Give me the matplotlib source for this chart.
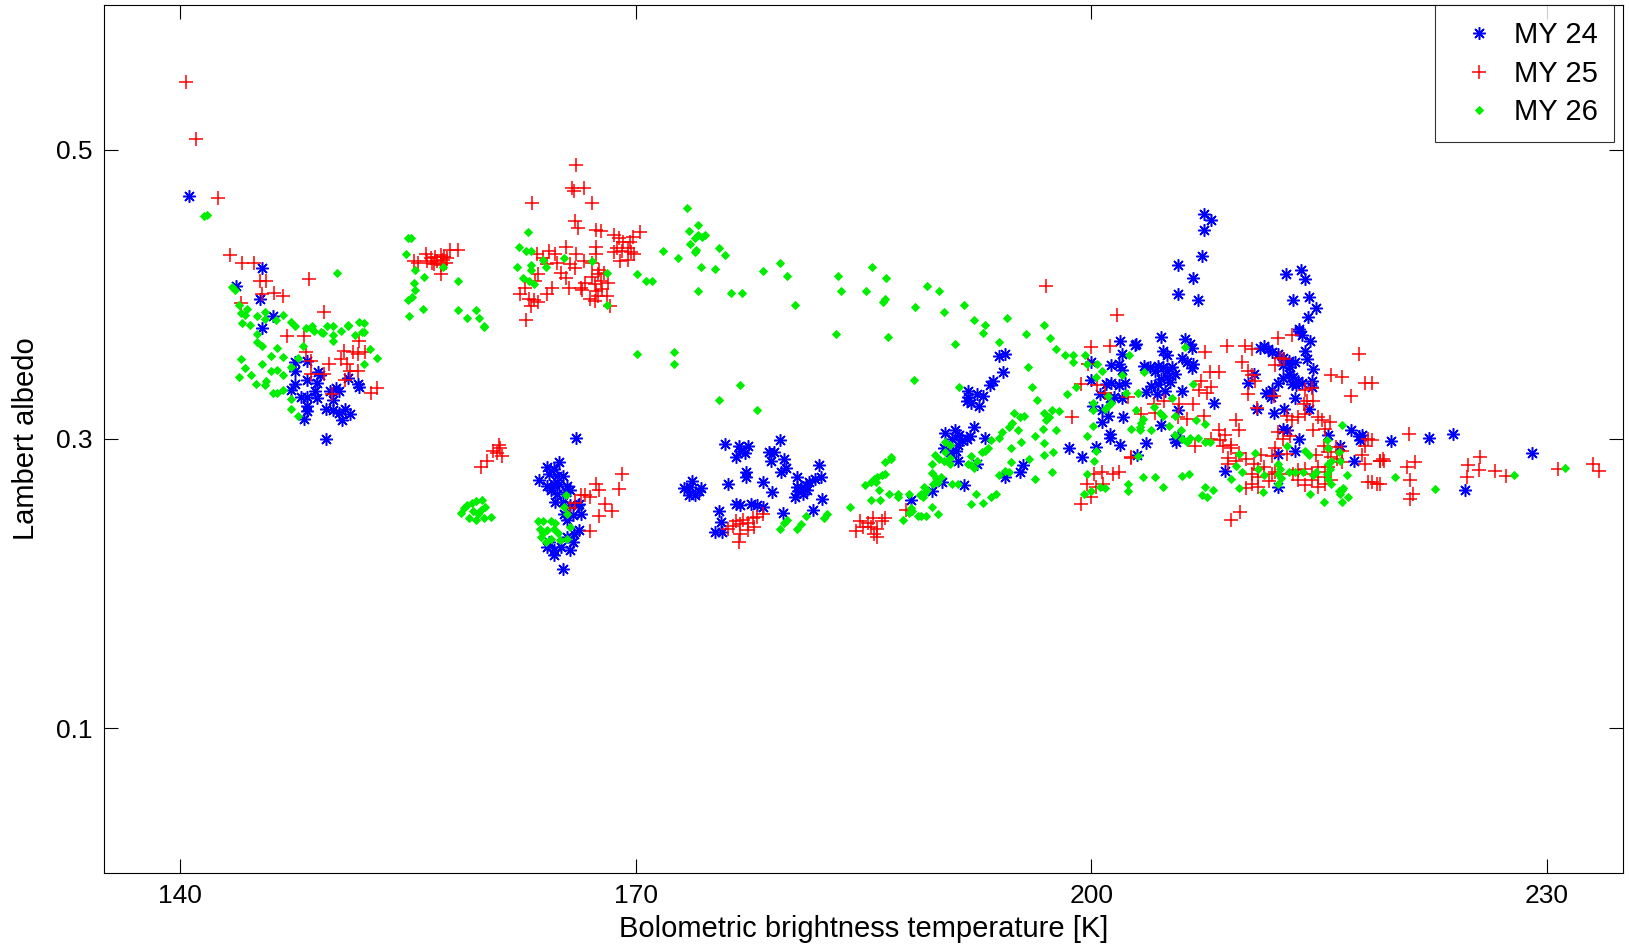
import matplotlib.pyplot as plt

plt.rcParams['font.family'] = ['Liberation Sans', 'DejaVu Sans']

# MY 24: (bolometric temperature [K], Lambert albedo)
my24 = [
    (140.6, 0.468),
    (145.4, 0.4185), (143.7, 0.406), (145.3, 0.397), (146.1, 0.385), (145.4, 0.377),
    (147.6, 0.353), (147.6, 0.347), (148.4, 0.354), (149.1, 0.346), (148.4, 0.341), (149.0, 0.339),
    (147.6, 0.338), (147.3, 0.334), (148.0, 0.329), (148.4, 0.329), (149.0, 0.328), (148.4, 0.323),
    (148.4, 0.319), (148.2, 0.314), (149.9, 0.333), (150.3, 0.335), (150.5, 0.333), (150.1, 0.327),
    (149.6, 0.321), (150.1, 0.320), (150.5, 0.318), (150.7, 0.313), (150.9, 0.321), (151.2, 0.317),
    (151.7, 0.338), (151.8, 0.336), (151.1, 0.342), (149.6, 0.300), (149.2, 0.344), (148.9, 0.333),
    (166.1, 0.301), (165.2, 0.210), (164.2, 0.2805), (164.6, 0.2793), (164.96, 0.284), (164.3, 0.2759),
    (164.85, 0.2747), (165.2, 0.2747), (163.64, 0.2713), (164.2, 0.2678), (164.6, 0.269), (164.96, 0.269),
    (165.5, 0.2678), (165.7, 0.2644), (164.4, 0.2644), (164.85, 0.2621), (165.4, 0.2632), (164.7, 0.2563),
    (165.2, 0.2563), (165.7, 0.254), (166.2, 0.254), (165.3, 0.2483), (165.85, 0.2471), (166.4, 0.2483),
    (165.5, 0.2437), (166.3, 0.2368), (165.95, 0.2345), (165.5, 0.2322), (165.85, 0.2287), (164.2, 0.2253),
    (164.6, 0.223), (165.07, 0.2253), (165.7, 0.223), (164.6, 0.2195), (164.3, 0.2287), (166.3, 0.2552),
    (173.7, 0.271), (173.2, 0.266), (173.6, 0.267), (174.2, 0.264), (173.9, 0.261), (173.5, 0.261),
    (174.3, 0.266), (175.9, 0.2966), (176.8, 0.295), (177.4, 0.295), (176.9, 0.292), (176.6, 0.2874),
    (177.2, 0.290), (177.3, 0.277), (177.3, 0.274), (176.1, 0.269), (178.4, 0.270), (179.0, 0.263),
    (179.5, 0.299), (178.8, 0.291), (179.1, 0.291), (179.8, 0.286), (179.9, 0.280), (179.6, 0.277),
    (178.9, 0.285), (180.6, 0.274), (182.1, 0.2817), (182.2, 0.2736), (181.8, 0.272), (181.4, 0.270),
    (181.2, 0.268), (180.9, 0.266), (180.7, 0.264), (180.5, 0.260), (180.6, 0.267), (181.0, 0.262),
    (181.3, 0.265), (182.3, 0.2587), (181.7, 0.251), (179.7, 0.2488), (176.6, 0.255), (176.9, 0.254),
    (177.6, 0.255), (178.0, 0.254), (178.4, 0.253), (175.5, 0.250), (175.6, 0.2426), (175.2, 0.2356),
    (175.7, 0.2356),
    (194.3, 0.3587), (193.9, 0.3576), (194.2, 0.346), (193.5, 0.340), (193.3, 0.337), (191.9, 0.333),
    (191.8, 0.326), (192.1, 0.325), (192.6, 0.323), (192.9, 0.330), (192.5, 0.331), (191.9, 0.329),
    (193.0, 0.301), (192.3, 0.308), (190.4, 0.304), (191.0, 0.306), (191.3, 0.303), (191.5, 0.299),
    (191.2, 0.296), (190.8, 0.300), (191.1, 0.292), (191.2, 0.285), (190.7, 0.291), (190.3, 0.294),
    (191.8, 0.300), (192.0, 0.302), (192.5, 0.283), (194.3, 0.2736), (195.3, 0.277), (195.5, 0.2817),
    (190.2, 0.270), (191.6, 0.268), (189.5, 0.264), (188.1, 0.258),
    (201.9, 0.368), (202.9, 0.365), (202.0, 0.3587), (200.0, 0.353), (201.3, 0.351), (201.8, 0.352),
    (202.0, 0.348), (201.0, 0.338), (201.3, 0.339), (201.8, 0.337), (202.2, 0.339), (200.6, 0.331),
    (201.2, 0.328), (201.5, 0.329), (202.0, 0.328), (200.1, 0.323), (200.7, 0.320), (201.1, 0.316),
    (202.1, 0.315), (200.7, 0.312), (201.2, 0.3035), (201.2, 0.301), (198.5, 0.2936), (199.4, 0.2874),
    (200.3, 0.2947), (201.9, 0.296), (203.0, 0.2886), (200.0, 0.341),
    (202.97, 0.3656), (204.6, 0.3702), (206.2, 0.369), (206.5, 0.366), (206.6, 0.363), (204.7, 0.361),
    (204.95, 0.358), (203.5, 0.3507), (203.85, 0.3495), (204.2, 0.3472), (204.4, 0.3507), (204.7, 0.3495),
    (204.95, 0.3472), (205.3, 0.3495), (205.5, 0.3449), (204.95, 0.3426), (204.6, 0.3415), (204.4, 0.338),
    (205.2, 0.3392), (203.96, 0.3369), (203.6, 0.3322), (204.3, 0.3311), (204.85, 0.3334),
    (206.0, 0.356), (206.3, 0.353), (206.6, 0.349), (206.7, 0.352), (206.0, 0.333), (208.1, 0.325),
    (205.7, 0.320), (204.6, 0.310), (203.6, 0.297), (205.5, 0.300), (205.7, 0.302), (205.6, 0.298),
    (208.8, 0.278), (210.9, 0.321), (210.3, 0.339), (210.7, 0.345),
    (207.4, 0.4558), (207.9, 0.4514), (207.4, 0.4443), (207.3, 0.4265), (205.7, 0.4203), (206.7, 0.4116),
    (205.7, 0.4001), (207.0, 0.396), (212.8, 0.414), (213.8, 0.4169), (214.1, 0.4105), (213.3, 0.396),
    (214.3, 0.398), (214.8, 0.3904), (214.25, 0.3845), (213.7, 0.376),
    (213.7, 0.3748), (213.85, 0.372), (214.4, 0.368), (211.4, 0.364), (211.6, 0.362), (211.1, 0.363),
    (211.9, 0.360), (212.3, 0.359), (212.6, 0.356), (213.0, 0.354), (213.4, 0.353), (213.1, 0.350),
    (212.6, 0.351), (214.1, 0.361), (214.2, 0.355), (214.6, 0.3484), (213.0, 0.345), (213.3, 0.343),
    (213.6, 0.340), (212.6, 0.342), (212.3, 0.339), (213.2, 0.338), (213.5, 0.337), (213.9, 0.339),
    (214.5, 0.340), (214.5, 0.336), (211.9, 0.334), (211.5, 0.332), (211.8, 0.329), (213.4, 0.328),
    (212.0, 0.318), (212.7, 0.321), (214.3, 0.321), (212.6, 0.307), (212.9, 0.306), (213.7, 0.300),
    (213.4, 0.292), (212.3, 0.2897), (212.3, 0.2667), (217.1, 0.306), (217.6, 0.302), (217.8, 0.303),
    (217.7, 0.299), (217.3, 0.285), (215.6, 0.303), (216.4, 0.295),
    (219.7, 0.2989), (222.2, 0.3007), (223.8, 0.3035), (224.6, 0.2644), (229.0, 0.2901),
]

# MY 25
my25 = [
    (140.4, 0.547), (141.05, 0.5075), (142.5, 0.467), (143.3, 0.427), (144.1, 0.422), (144.85, 0.422),
    (148.5, 0.4105), (145.3, 0.409), (145.7, 0.409), (145.4, 0.400), (146.2, 0.401), (146.8, 0.399),
    (144.0, 0.394), (149.5, 0.3875),
    (147.05, 0.371), (148.15, 0.371), (151.8, 0.368), (148.3, 0.360), (148.6, 0.354), (149.8, 0.352),
    (150.6, 0.355), (150.8, 0.361), (151.4, 0.360), (151.7, 0.359), (152.2, 0.360), (151.0, 0.352),
    (151.2, 0.347), (151.7, 0.347), (149.5, 0.345), (148.6, 0.345), (150.9, 0.341), (150.0, 0.331),
    (152.55, 0.332), (153.0, 0.3355),
    (155.7, 0.4219), (156.2, 0.4277), (156.5, 0.425), (156.8, 0.426), (157.2, 0.427), (157.4, 0.426),
    (156.3, 0.423), (156.6, 0.422), (156.9, 0.423), (157.3, 0.424), (157.6, 0.425), (156.7, 0.421),
    (157.2, 0.420), (157.5, 0.422), (157.8, 0.431), (158.3, 0.431), (157.2, 0.414), (155.4, 0.423),
    (159.8, 0.2805), (160.2, 0.285), (160.6, 0.292), (160.9, 0.290), (161.1, 0.294), (161.0, 0.2955),
    (161.2, 0.288),
    (166.06, 0.4898), (165.8, 0.4737), (165.95, 0.4714), (166.6, 0.4737), (167.1, 0.4634), (163.2, 0.4629),
    (166.0, 0.4507), (166.2, 0.446), (167.4, 0.4443), (167.75, 0.4438), (168.6, 0.441), (168.9, 0.439),
    (170.3, 0.4433), (169.8, 0.440), (169.2, 0.436), (169.6, 0.436), (168.8, 0.432), (169.1, 0.430),
    (168.6, 0.429), (169.7, 0.429), (169.9, 0.428), (169.5, 0.432), (169.0, 0.423), (169.5, 0.424),
    (167.4, 0.433), (167.4, 0.428), (165.4, 0.433), (164.3, 0.430), (164.7, 0.4277), (163.5, 0.4277),
    (163.9, 0.425), (166.1, 0.4277), (166.6, 0.4231), (167.1, 0.422), (164.2, 0.421), (164.85, 0.422),
    (165.7, 0.421), (166.0, 0.418), (165.1, 0.415), (165.4, 0.411), (163.6, 0.414), (163.4, 0.409),
    (164.5, 0.4047), (164.2, 0.400), (162.7, 0.4047), (162.4, 0.400), (163.0, 0.397), (163.3, 0.396),
    (163.6, 0.395), (163.1, 0.392), (162.8, 0.382), (165.6, 0.4047), (166.4, 0.4047), (166.7, 0.408),
    (167.1, 0.412), (167.5, 0.414), (167.7, 0.409), (167.3, 0.407), (167.8, 0.404), (167.4, 0.402),
    (167.5, 0.399), (167.0, 0.397), (168.1, 0.399), (168.2, 0.408), (167.9, 0.415), (167.6, 0.417),
    (166.5, 0.403), (168.3, 0.392), (167.3, 0.3955),
    (167.4, 0.269), (167.6, 0.265), (166.4, 0.261), (166.7, 0.261), (167.0, 0.260), (166.0, 0.256),
    (165.7, 0.252), (168.0, 0.255), (168.45, 0.250), (167.6, 0.247), (167.0, 0.236), (169.1, 0.2758),
    (168.9, 0.2655),
    (176.1, 0.238), (176.6, 0.243), (176.9, 0.241), (177.4, 0.242), (177.7, 0.245), (178.0, 0.246),
    (178.4, 0.248), (176.9, 0.2345), (177.4, 0.237), (177.8, 0.239), (176.8, 0.229), (176.4, 0.240),
    (177.1, 0.244),
    (184.5, 0.236), (184.8, 0.243), (185.3, 0.242), (185.5, 0.239), (185.9, 0.238), (186.2, 0.243),
    (186.4, 0.245), (185.7, 0.234), (185.9, 0.232), (185.0, 0.239), (185.6, 0.245), (187.8, 0.2506),
    (197.0, 0.406), (201.7, 0.386),
    (200.0, 0.3633), (201.2, 0.3645), (199.8, 0.352), (199.3, 0.338), (200.4, 0.337), (200.9, 0.332),
    (202.4, 0.329), (198.7, 0.315), (202.6, 0.2874), (200.2, 0.276), (200.7, 0.277), (201.4, 0.276),
    (201.8, 0.277), (199.7, 0.269), (200.3, 0.267), (200.8, 0.269), (200.0, 0.260), (199.3, 0.255),
    (207.5, 0.360), (208.9, 0.364), (210.1, 0.364), (210.6, 0.362), (212.3, 0.370), (213.2, 0.372),
    (209.9, 0.353), (210.3, 0.347), (210.6, 0.344), (210.8, 0.340), (212.1, 0.351), (212.4, 0.356),
    (212.7, 0.355), (210.3, 0.331), (212.0, 0.330), (210.9, 0.3215), (207.8, 0.346), (208.4, 0.346),
    (207.2, 0.340), (207.9, 0.336), (207.6, 0.332), (207.1, 0.334), (205.8, 0.324), (204.8, 0.326),
    (204.1, 0.324), (204.2, 0.318), (206.7, 0.324), (205.7, 0.315), (206.3, 0.314), (207.4, 0.316),
    (203.3, 0.317), (202.6, 0.287), (206.8, 0.295), (207.9, 0.300), (208.4, 0.306), (208.8, 0.303),
    (208.5, 0.299), (208.7, 0.295), (209.2, 0.296), (209.7, 0.306), (209.5, 0.313), (209.2, 0.294),
    (209.7, 0.290), (209.5, 0.285), (209.0, 0.287), (209.0, 0.283), (210.2, 0.286), (210.7, 0.283),
    (211.0, 0.2793), (210.6, 0.2759), (211.0, 0.2736), (211.4, 0.2805), (211.9, 0.276), (212.1, 0.277),
    (212.4, 0.276), (211.7, 0.271), (210.2, 0.266), (210.6, 0.269), (211.0, 0.267), (211.2, 0.289),
    (212.3, 0.305), (212.6, 0.300), (213.1, 0.302), (212.1, 0.294), (211.9, 0.288), (213.6, 0.2782),
    (214.1, 0.2793), (214.5, 0.2759), (214.95, 0.2736), (215.4, 0.277), (215.6, 0.2805), (214.95, 0.2805),
    (215.8, 0.2713), (215.4, 0.269), (214.95, 0.2667), (214.5, 0.2713), (213.6, 0.2713), (214.1, 0.268),
    (215.6, 0.2908), (214.8, 0.2886), (215.3, 0.2954), (216.1, 0.2943), (216.5, 0.292), (215.8, 0.2874),
    (216.2, 0.2862), (216.5, 0.284), (215.8, 0.344), (216.5, 0.343), (215.7, 0.3115), (214.95, 0.315),
    (215.2, 0.313), (214.6, 0.306), (215.4, 0.307), (217.1, 0.330), (217.6, 0.359), (218.0, 0.339),
    (214.0, 0.324), (214.2, 0.326), (214.6, 0.326), (214.1, 0.334), (214.5, 0.335), (213.6, 0.315),
    (214.1, 0.317), (213.2, 0.313), (212.9, 0.316), (218.0, 0.295), (218.2, 0.300), (217.8, 0.289),
    (218.0, 0.283), (218.2, 0.270), (218.8, 0.269), (219.0, 0.285), (209.8, 0.2495), (209.2, 0.2437),
    (212.9, 0.2897), (213.3, 0.276),
    (218.5, 0.339), (218.5, 0.299), (220.9, 0.3035), (219.0, 0.285), (219.2, 0.286), (219.3, 0.285),
    (220.8, 0.2805), (221.3, 0.284), (219.0, 0.269), (221.0, 0.2713), (218.5, 0.270), (221.2, 0.2621),
    (221.0, 0.2587), (224.8, 0.2817), (225.6, 0.2874), (225.5, 0.2782), (224.7, 0.2736), (226.6, 0.278),
    (227.3, 0.2747), (230.7, 0.2793), (233.0, 0.2828), (233.4, 0.278),
]

# MY 26
my26 = [
    (141.8, 0.455), (141.6, 0.454), (143.4, 0.405), (143.6, 0.403), (150.35, 0.415),
    (144.4, 0.390), (144.0, 0.387), (143.9, 0.393), (144.3, 0.386), (145.6, 0.383), (146.3, 0.382),
    (146.8, 0.386), (147.3, 0.381), (147.6, 0.378), (148.3, 0.377), (148.8, 0.375), (149.3, 0.374),
    (149.7, 0.378), (150.1, 0.372), (150.6, 0.375), (151.1, 0.379), (151.5, 0.372), (152.0, 0.374),
    (151.8, 0.381), (145.1, 0.385), (145.6, 0.388),
    (144.1, 0.380), (144.6, 0.379), (145.1, 0.3725), (145.1, 0.3674), (145.4, 0.364), (146.4, 0.363),
    (146.0, 0.3576), (145.4, 0.352), (146.0, 0.347), (146.4, 0.348), (146.8, 0.344), (144.7, 0.344),
    (145.7, 0.340), (145.6, 0.337), (146.1, 0.332), (146.4, 0.3316), (146.8, 0.3337), (147.3, 0.3277),
    (147.3, 0.3207), (147.8, 0.3161), (148.7, 0.378), (150.1, 0.378), (150.1, 0.368), (151.1, 0.378),
    (152.1, 0.380), (152.1, 0.374), (152.5, 0.362), (153.0, 0.356), (152.1, 0.352), (148.1, 0.364),
    (147.3, 0.350), (147.8, 0.356), (146.8, 0.357), (149.4, 0.373), (148.7, 0.376),
    (144.0, 0.355), (144.3, 0.349), (143.9, 0.343), (145.0, 0.338),
    (155.2, 0.439), (155.05, 0.439), (154.9, 0.428), (155.5, 0.417), (156.1, 0.412), (155.4, 0.408),
    (155.5, 0.403), (155.3, 0.398), (155.0, 0.396), (156.0, 0.390), (155.1, 0.385), (158.3, 0.409),
    (158.3, 0.389), (158.9, 0.384), (159.5, 0.389), (159.7, 0.384), (160.0, 0.378), (157.3, 0.419),
    (162.9, 0.443), (162.3, 0.433), (162.8, 0.430), (163.1, 0.430), (162.2, 0.419), (163.1, 0.420),
    (163.1, 0.417), (164.1, 0.419), (162.6, 0.411), (163.0, 0.409), (163.3, 0.407), (163.9, 0.424),
    (165.3, 0.425), (167.1, 0.423), (168.1, 0.415), (170.1, 0.414), (170.7, 0.409), (171.1, 0.409),
    (171.8, 0.430), (172.8, 0.425), (168.1, 0.393),
    (160.0, 0.3776), (170.1, 0.3587), (172.5, 0.360), (172.5, 0.352),
    (173.4, 0.460), (174.1, 0.448), (173.5, 0.444), (174.1, 0.441), (174.4, 0.440), (174.6, 0.441),
    (173.9, 0.439), (173.6, 0.435), (174.0, 0.431), (173.9, 0.429), (175.5, 0.432), (175.9, 0.427),
    (174.3, 0.419), (175.2, 0.4176), (179.5, 0.422), (178.4, 0.416), (180.0, 0.413), (174.1, 0.402),
    (176.3, 0.401), (177.0, 0.401), (180.5, 0.393), (183.35, 0.413), (183.5, 0.402), (185.55, 0.419),
    (186.5, 0.411), (185.2, 0.402), (186.4, 0.397), (186.3, 0.395),
    (189.2, 0.406), (190.0, 0.402), (188.4, 0.391), (190.3, 0.388), (191.6, 0.3925), (192.3, 0.382),
    (194.45, 0.384), (193.0, 0.379), (196.9, 0.379),
    (176.9, 0.337), (175.5, 0.327), (178.0, 0.320), (183.2, 0.3725), (186.6, 0.3707),
    (158.5, 0.249), (158.9, 0.254), (159.2, 0.256), (159.5, 0.257), (159.9, 0.258), (159.0, 0.245),
    (159.5, 0.244), (160.0, 0.245), (160.5, 0.246), (159.3, 0.250), (159.8, 0.251), (160.1, 0.253),
    (158.7, 0.252), (159.6, 0.248),
    (165.4, 0.261), (165.3, 0.253), (165.5, 0.248), (165.7, 0.239), (163.6, 0.243), (163.9, 0.243),
    (164.4, 0.243), (164.7, 0.242), (163.7, 0.238), (164.2, 0.237), (164.6, 0.238), (163.8, 0.232),
    (164.4, 0.231), (165.0, 0.230), (164.1, 0.229), (165.5, 0.231), (163.9, 0.235), (164.9, 0.235),
    (179.5, 0.238), (179.8, 0.242), (180.0, 0.244), (180.6, 0.238), (180.9, 0.2414), (181.2, 0.247),
    (182.4, 0.245), (182.6, 0.248),
    (186.4, 0.284), (186.8, 0.286), (185.1, 0.268), (185.5, 0.270), (185.7, 0.272), (185.9, 0.274),
    (186.2, 0.275), (186.4, 0.276), (185.5, 0.258), (186.1, 0.258), (186.7, 0.262), (187.3, 0.262),
    (184.1, 0.253), (185.8, 0.270), (186.0, 0.265),
    (191.0, 0.366), (192.9, 0.373), (193.9, 0.367), (195.7, 0.3725), (197.3, 0.370), (197.7, 0.362),
    (198.3, 0.358), (198.8, 0.358), (198.8, 0.353), (195.8, 0.350), (191.3, 0.336), (188.3, 0.341),
    (196.1, 0.336), (196.4, 0.3272), (198.4, 0.331), (199.0, 0.336), (196.9, 0.318), (197.4, 0.320),
    (197.2, 0.315), (197.0, 0.313), (197.9, 0.319), (195.6, 0.316), (194.9, 0.318), (195.3, 0.315),
    (194.8, 0.311), (194.6, 0.308), (194.1, 0.305), (193.9, 0.301), (193.4, 0.299), (193.2, 0.294),
    (193.0, 0.292), (192.8, 0.291), (192.1, 0.288), (191.9, 0.283), (192.3, 0.280), (192.5, 0.285),
    (195.2, 0.306), (195.4, 0.298), (194.7, 0.294), (195.9, 0.286), (196.8, 0.307), (196.9, 0.297),
    (196.9, 0.289), (197.5, 0.291), (197.7, 0.306), (196.3, 0.302), (194.7, 0.284), (194.6, 0.277),
    (193.9, 0.275), (197.4, 0.277), (196.3, 0.272), (194.3, 0.278),
    (190.4, 0.298), (190.7, 0.296), (190.4, 0.291), (190.7, 0.287), (190.3, 0.285), (190.7, 0.283),
    (190.0, 0.286), (189.7, 0.289), (189.5, 0.283), (189.5, 0.2763), (189.8, 0.273), (190.1, 0.274),
    (189.6, 0.269), (189.9, 0.270), (189.0, 0.267), (189.2, 0.265), (188.8, 0.262), (188.9, 0.260),
    (188.7, 0.261), (189.0, 0.262), (190.8, 0.269), (191.2, 0.269), (188.0, 0.262), (188.1, 0.252),
    (188.0, 0.249), (188.2, 0.250), (187.3, 0.260), (187.6, 0.2437), (188.6, 0.247), (188.8, 0.247),
    (189.1, 0.247), (189.9, 0.2483), (189.5, 0.253), (192.1, 0.255), (192.4, 0.262), (192.9, 0.256),
    (193.4, 0.260), (193.7, 0.262), (192.1, 0.2817), (186.8, 0.2874),
    (199.7, 0.302), (200.1, 0.309), (199.7, 0.276), (199.5, 0.262), (200.0, 0.264), (200.6, 0.267),
    (202.4, 0.269), (202.4, 0.264), (200.9, 0.266), (200.2, 0.285), (200.3, 0.292), (202.6, 0.307),
    (203.2, 0.306), (203.1, 0.332), (202.5, 0.358), (200.4, 0.352), (200.7, 0.347), (200.3, 0.343),
    (200.1, 0.325), (200.1, 0.320), (201.1, 0.323), (201.3, 0.325), (200.9, 0.321), (201.1, 0.330),
    (202.3, 0.332), (202.0, 0.344), (199.6, 0.358), (199.7, 0.352),
    (206.2, 0.3633), (203.5, 0.346), (203.1, 0.332), (202.97, 0.320), (203.4, 0.314), (203.2, 0.308),
    (203.96, 0.306), (203.3, 0.311), (204.1, 0.322), (204.5, 0.318), (204.7, 0.316), (205.3, 0.328),
    (205.5, 0.316), (205.1, 0.309), (205.9, 0.306), (206.0, 0.300), (206.3, 0.298), (205.5, 0.303),
    (206.5, 0.301), (206.7, 0.338), (206.9, 0.313), (207.5, 0.3105), (207.0, 0.301), (207.5, 0.298),
    (207.8, 0.298), (203.1, 0.2885), (203.4, 0.2736), (204.2, 0.2736), (204.7, 0.267), (206.0, 0.2747),
    (206.4, 0.276), (207.3, 0.261), (207.6, 0.260), (207.5, 0.267), (208.0, 0.265), (209.2, 0.272),
    (209.7, 0.2897), (209.5, 0.281), (209.9, 0.277), (209.7, 0.266), (210.8, 0.290), (211.0, 0.2793),
    (211.4, 0.275), (211.3, 0.2632), (212.3, 0.2828), (212.4, 0.279), (212.3, 0.276), (212.3, 0.269),
    (212.5, 0.273), (212.9, 0.2954), (213.0, 0.277), (213.4, 0.277), (213.96, 0.277), (214.1, 0.292),
    (214.3, 0.289), (214.4, 0.262), (214.6, 0.275), (214.8, 0.277), (215.5, 0.299), (215.6, 0.294),
    (215.6, 0.283), (215.8, 0.285), (215.7, 0.279), (215.5, 0.276), (215.6, 0.272), (215.8, 0.269),
    (216.5, 0.310), (216.3, 0.291), (216.4, 0.285), (216.3, 0.264), (216.6, 0.266), (216.4, 0.262),
    (216.5, 0.265), (216.9, 0.260), (215.3, 0.2564), (216.5, 0.2564), (216.8, 0.275),
    (220.0, 0.2736), (222.6, 0.2656), (227.8, 0.2754), (231.2, 0.2796),
]

series = ['MY 24', 'MY 25', 'MY 26']
colors = ['#0000ff', '#ff0000', '#00ee00']
x_ticks = [140, 170, 200, 230]
y_ticks = [0.1, 0.3, 0.5]

fig = plt.figure(figsize=(16.29, 9.49), dpi=100)
ax = fig.add_axes([0.0638, 0.0804, 0.9325, 0.9141])

# MATLAB-style markers: asterisk, plus, point
t, a = zip(*my24)
ax.plot(t, a, linestyle='none', marker=(8, 2, 0), markersize=9, mew=1.1,
        color=colors[0], label=series[0])
t, a = zip(*my25)
ax.plot(t, a, linestyle='none', marker='+', markersize=10, mew=1.1,
        color=colors[1], label=series[1])
t, a = zip(*my26)
ax.plot(t, a, linestyle='none', marker='D', markersize=3.6, mew=0.7,
        color=colors[2], label=series[2])

ax.set_xlim(135, 235)
ax.set_ylim(0, 0.6)
ax.set_xticks(x_ticks)
ax.set_yticks(y_ticks)
ax.set_yticklabels([str(v) for v in y_ticks])
ax.tick_params(direction='in', length=10, width=0.8, top=True, right=True,
               labelsize=19, pad=8)
for s in ax.spines.values():
    s.set_linewidth(0.8)

ax.set_xlabel('Bolometric brightness temperature [K]', fontsize=21, labelpad=5)
ax.set_ylabel('Lambert albedo', fontsize=21, labelpad=12)

leg = ax.legend(loc='upper right', bbox_to_anchor=(0.994, 1.0), fontsize=21,
                frameon=True, fancybox=False, edgecolor='black', borderpad=0.55,
                handlelength=1.9, handletextpad=0.25, labelspacing=0.36,
                borderaxespad=0.0)
leg.get_frame().set_linewidth(0.8)

fig.savefig('out.png', dpi=100)
